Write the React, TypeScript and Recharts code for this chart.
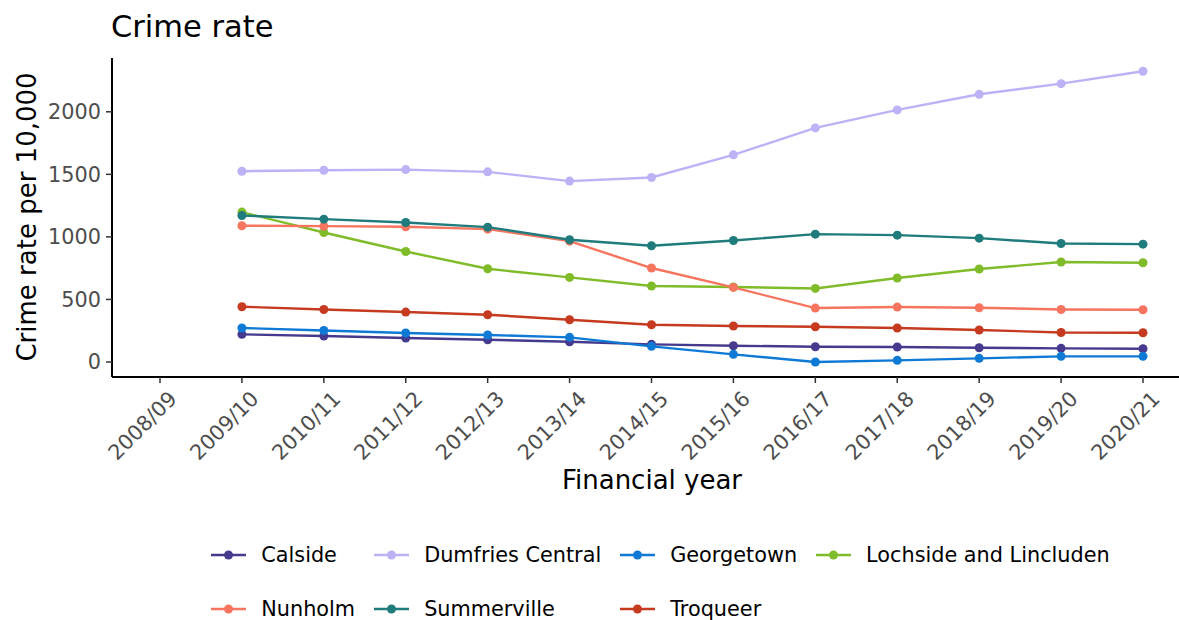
import React from "react";
import { LineChart, Line, XAxis, YAxis } from "recharts";

const years = ["2008/09","2009/10","2010/11","2011/12","2012/13","2013/14","2014/15","2015/16","2016/17","2017/18","2018/19","2019/20","2020/21"];

const calside = [null,221,208,192,178,162,141,130,122,120,114,109,106];
const dumfriesCentral = [null,1525,1533,1538,1520,1446,1475,1656,1871,2015,2140,2225,2324];
const georgetown = [null,272,252,232,216,197,125,61,0,13,29,45,45];
const lochside = [null,1198,1035,883,745,676,607,599,588,671,743,799,793];
const nunholm = [null,1089,1086,1081,1062,966,751,596,431,439,434,420,418];
const summerville = [null,1171,1142,1115,1078,977,929,971,1022,1014,990,947,942];
const troqueer = [null,442,420,399,378,338,298,288,282,272,256,236,234];

const yTicks = [0, 500, 1000, 1500, 2000];

const seriesNames = ["Calside","Dumfries Central","Georgetown","Lochside and Lincluden","Nunholm","Summerville","Troqueer"];
const seriesValues = [calside, dumfriesCentral, georgetown, lochside, nunholm, summerville, troqueer];
const seriesColors = ["#463A8E","#BCB2F6","#0E7AD6","#80BB2A","#F7745F","#207B7C","#C63A1F"];

const data = years.map((y, i) => {
  const row: Record<string, any> = { year: y };
  seriesNames.forEach((n, j) => { row[n] = seriesValues[j][i]; });
  return row;
});

const FONT = "'DejaVu Sans', sans-serif";

const XTick = (props: any) => {
  const { x, y, payload } = props;
  return (
    <g transform={`translate(${x + 7},${y + 4}) rotate(-45)`}>
      <text x={0} y={0} dy="0.75em" textAnchor="end" fill="#4D4D4D" fontSize={20.8} fontFamily={FONT}>
        {payload.value}
      </text>
    </g>
  );
};

const YTick = (props: any) => {
  const { x, y, payload } = props;
  return (
    <text x={x} y={y} dy="0.36em" textAnchor="end" fill="#4D4D4D" fontSize={20.8} fontFamily={FONT}>
      {payload.value}
    </text>
  );
};

export default function App() {
  return (
    <div style={{ position: "absolute", left: 0, top: 0, width: 1179, height: 620, overflow: "hidden", background: "#fff", fontFamily: FONT }}>
      <div style={{ position: "absolute", left: 111, top: 9, fontSize: 30.5, color: "#000", whiteSpace: "nowrap" }}>Crime rate</div>
      <LineChart width={1192} height={620} data={data} margin={{ top: 58, right: 0, left: 0, bottom: 0 }}>
        <XAxis
          dataKey="year"
          height={243}
          padding={{ left: 48, right: 49 }}
          tick={<XTick />}
          tickSize={6}
          axisLine={{ stroke: "#000", strokeWidth: 2 }}
          tickLine={{ stroke: "#333", strokeWidth: 1.5 }}
          interval={0}
          label={(p: any) => (
            <text x={652} y={489} textAnchor="middle" fontSize={26} fontFamily={FONT} fill="#000">Financial year</text>
          )}
        />
        <YAxis
          width={112}
          domain={[-120, 2430]}
          ticks={yTicks}
          tick={<YTick />}
          tickSize={6}
          tickMargin={5}
          allowDataOverflow
          axisLine={{ stroke: "#000", strokeWidth: 2 }}
          tickLine={{ stroke: "#333", strokeWidth: 1.5 }}
          label={(p: any) => (
            <text x={0} y={0} transform="translate(36,217) rotate(-90)" textAnchor="middle" fontSize={26} fontFamily={FONT} fill="#000">Crime rate per 10,000</text>
          )}
        />
        {seriesNames.map((n, j) => (
          <Line
            key={n}
            dataKey={n}
            stroke={seriesColors[j]}
            strokeWidth={2.4}
            dot={{ r: 4.5, fill: seriesColors[j], stroke: seriesColors[j], strokeWidth: 0 }}
            activeDot={false}
            isAnimationActive={false}
            connectNulls={false}
          />
        ))}
      </LineChart>
      <div
        style={{
          position: "absolute",
          top: 528,
          left: 0,
          width: 1321,
          display: "flex",
          justifyContent: "center",
        }}
      >
        <div style={{ display: "grid", gridTemplateColumns: "repeat(4, auto)", columnGap: 19, rowGap: 0 }}>
          {seriesNames.map((n, j) => (
            <div key={n} style={{ display: "flex", alignItems: "center", height: 54, fontSize: 20.8, color: "#000", whiteSpace: "nowrap" }}>
              <svg width={35} height={12} style={{ marginRight: 15 }}>
                <line x1={0} y1={6} x2={35} y2={6} stroke={seriesColors[j]} strokeWidth={2.4} />
                <circle cx={17.5} cy={6} r={4.5} fill={seriesColors[j]} />
              </svg>
              <span>{n}</span>
            </div>
          ))}
        </div>
      </div>
    </div>
  );
}
